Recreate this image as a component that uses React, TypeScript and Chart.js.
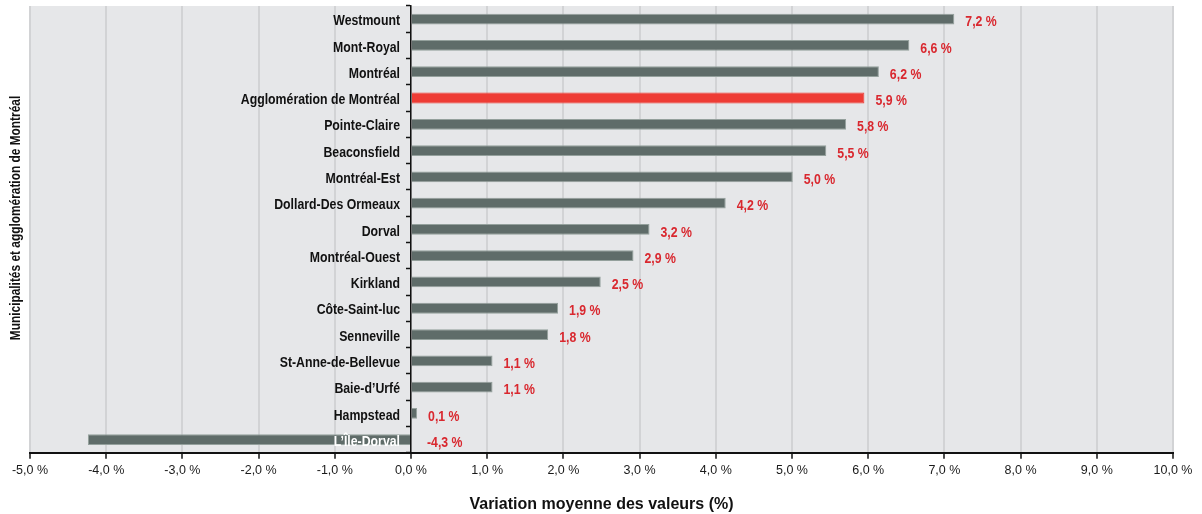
import { useEffect, useRef } from 'react';
import { Chart, registerables } from 'chart.js';

Chart.register(...registerables);

const categories = [
  'Westmount',
  'Mont-Royal',
  'Montréal',
  'Agglomération de Montréal',
  'Pointe-Claire',
  'Beaconsfield',
  'Montréal-Est',
  'Dollard-Des Ormeaux',
  'Dorval',
  'Montréal-Ouest',
  'Kirkland',
  'Côte-Saint-luc',
  'Senneville',
  'St-Anne-de-Bellevue',
  'Baie-d’Urfé',
  'Hampstead',
  'L’Île-Dorval',
];

const values = [7.13, 6.54, 6.14, 5.95, 5.71, 5.45, 5.01, 4.13, 3.13, 2.92, 2.49, 1.93, 1.8, 1.07, 1.07, 0.08, -4.24];

const valueLabels = [
  '7,2 %', '6,6 %', '6,2 %', '5,9 %', '5,8 %', '5,5 %', '5,0 %', '4,2 %', '3,2 %',
  '2,9 %', '2,5 %', '1,9 %', '1,8 %', '1,1 %', '1,1 %', '0,1 %', '-4,3 %',
];

const highlightCategory = 'Agglomération de Montréal';
const insideLabelCategory = 'L’Île-Dorval';

const xTickValues = [-5, -4, -3, -2, -1, 0, 1, 2, 3, 4, 5, 6, 7, 8, 9, 10];
const xTickLabels = [
  '-5,0 %', '-4,0 %', '-3,0 %', '-2,0 %', '-1,0 %', '0,0 %', '1,0 %', '2,0 %',
  '3,0 %', '4,0 %', '5,0 %', '6,0 %', '7,0 %', '8,0 %', '9,0 %', '10,0 %',
];

const xTitle = 'Variation moyenne des valeurs (%)';
const yTitle = 'Municipalités et agglomération de Montréal';

const FONT = "'Liberation Sans', Arial, sans-serif";
const NARROW = 0.82;

function drawNarrow(ctx: CanvasRenderingContext2D, text: string, x: number, y: number, align: 'left' | 'right' | 'center') {
  ctx.save();
  ctx.translate(x, y);
  ctx.scale(NARROW, 1);
  ctx.textAlign = align;
  ctx.fillText(text, 0, 0);
  ctx.restore();
}

export default function App() {
  const ref = useRef<HTMLCanvasElement | null>(null);

  useEffect(() => {
    const canvas = ref.current;
    if (!canvas) return;

    const bgPlugin = {
      id: 'plotBg',
      beforeDraw(chart: any) {
        const { ctx, chartArea } = chart;
        ctx.save();
        ctx.fillStyle = '#e6e7e9';
        ctx.fillRect(chartArea.left, chartArea.top, chartArea.right - chartArea.left, chartArea.bottom - chartArea.top);
        ctx.restore();
      },
    };

    const labelPlugin = {
      id: 'textLabels',
      afterDraw(chart: any) {
        const { ctx } = chart;
        const meta = chart.getDatasetMeta(0);
        const zero = chart.scales.x.getPixelForValue(0);
        ctx.save();
        ctx.textBaseline = 'middle';

        // category labels, left of the zero axis
        ctx.font = `bold 15px ${FONT}`;
        meta.data.forEach((bar: any, i: number) => {
          ctx.fillStyle = categories[i] === insideLabelCategory ? '#ffffff' : '#111111';
          drawNarrow(ctx, categories[i], zero - 11, bar.y + 2, 'right');
        });

        // value labels
        ctx.font = `bold 15px ${FONT}`;
        ctx.fillStyle = '#d9282f';
        meta.data.forEach((bar: any, i: number) => {
          const x = Math.max(bar.x, zero + 5) + 11;
          drawNarrow(ctx, valueLabels[i], x, bar.y + 3, 'left');
        });

        // y axis title
        ctx.font = `bold 14.5px ${FONT}`;
        ctx.fillStyle = '#111';
        ctx.translate(16, 218);
        ctx.rotate(-Math.PI / 2);
        drawNarrow(ctx, yTitle, 0, 0, 'center');
        ctx.restore();
      },
    };

    const chart = new Chart(canvas, {
      type: 'bar',
      data: {
        labels: categories,
        datasets: [
          {
            data: values,
            backgroundColor: categories.map((c) => (c === highlightCategory ? '#ee3c35' : '#5f6c69')),
            borderColor: categories.map((c) => (c === highlightCategory ? '#ee3c35' : '#94a09c')),
            borderWidth: 1,
            barPercentage: 0.41,
            categoryPercentage: 1,
          },
        ],
      },
      options: {
        indexAxis: 'y',
        animation: false,
        responsive: false,
        maintainAspectRatio: false,
        layout: { padding: { left: 30, right: 29, top: 6, bottom: 0 } },
        plugins: {
          legend: { display: false },
          tooltip: { enabled: false },
        },
        scales: {
          x: {
            type: 'linear',
            min: -5,
            max: 10,
            afterBuildTicks(scale: any) {
              scale.ticks = xTickValues.map((v) => ({ value: v }));
            },
            ticks: {
              color: '#1a1a1a',
              font: { family: FONT, size: 12.5 },
              padding: 4,
              callback: (_v: any, i: number) => xTickLabels[i],
              maxRotation: 0,
              autoSkip: false,
            },
            grid: {
              color: '#d2d3d5',
              lineWidth: 2,
              tickColor: '#111',
              tickWidth: 1.5,
              tickLength: 6,
            },
            border: { display: true, color: '#111', width: 2 },
            title: {
              display: true,
              text: xTitle,
              color: '#111',
              font: { family: FONT, size: 16, weight: 'bold' },
              padding: { top: 13, bottom: 0 },
            },
          },
          y: {
            type: 'category',
            position: { x: 0 } as any,
            z: 1,
            ticks: { display: false },
            grid: {
              drawOnChartArea: false,
              drawTicks: true,
              tickLength: 4,
              tickColor: '#111',
              tickWidth: 1.5,
            },
            border: { display: true, color: '#111', width: 1.5 },
          },
        },
      },
      plugins: [bgPlugin, labelPlugin],
    } as any);

    return () => chart.destroy();
  }, []);

  return (
    <div style={{ position: 'absolute', left: 0, top: 0, width: 1202, height: 514, background: '#fff' }}>
      <canvas ref={ref} width={1202} height={514} style={{ display: 'block', width: 1202, height: 514 }} />
    </div>
  );
}
